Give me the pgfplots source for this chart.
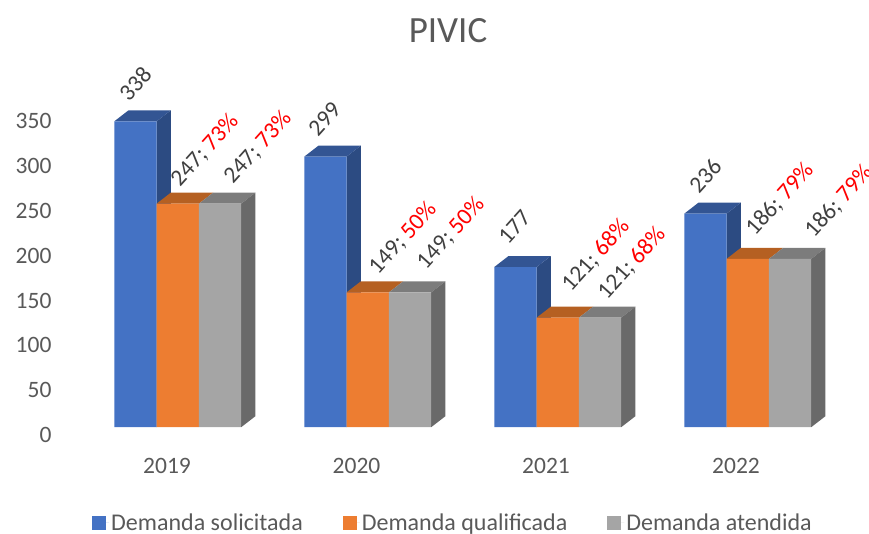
\documentclass[border=0pt]{standalone}
\usepackage{fontspec}
\setmainfont{Carlito}
\usepackage{pgfplots}
\pgfplotsset{compat=1.18}
\definecolor{bluefront}{HTML}{4472C4}
\definecolor{bluetop}{HTML}{335593}
\definecolor{blueside}{HTML}{2C4B82}
\definecolor{orangefront}{HTML}{ED7D31}
\definecolor{orangetop}{HTML}{B56022}
\definecolor{greyfront}{HTML}{A5A5A5}
\definecolor{greytop}{HTML}{7C7C7C}
\definecolor{greyside}{HTML}{696969}
\definecolor{txt}{HTML}{595959}
\definecolor{lbl}{HTML}{404040}
% top face: x of front-left, x of front-right, value, colour
\newcommand\topface[4]{%
  \pgfmathsetmacro\xc{#1+14.2}\pgfmathsetmacro\xd{#2+14.2}\pgfmathsetmacro\vt{#3+12.15}%
  \edef\tmp{\noexpand\addplot[fill=#4,draw=none,forget plot] coordinates {(#1,#3) (\xc,\vt) (\xd,\vt) (#2,#3)} -- cycle;}\tmp}
% side face: x of front-right, value, colour
\newcommand\sideface[3]{%
  \pgfmathsetmacro\xd{#1+14.2}\pgfmathsetmacro\vt{#2+12.15}%
  \edef\tmp{\noexpand\addplot[fill=#3,draw=none,forget plot] coordinates {(#1,0) (\xd,12.15) (\xd,\vt) (#1,#2)} -- cycle;}\tmp}
\newcommand\group[3]{% x of left edge, blue value, orange/grey value
  \pgfmathsetmacro\xa{#1}\pgfmathsetmacro\xb{#1+42.3}\pgfmathsetmacro\xe{#1+84.6}\pgfmathsetmacro\xf{#1+126.9}%
  \edef\ga{\xa}\edef\gb{\xb}\edef\ge{\xe}\edef\gf{\xf}%
  \sideface{\gb}{#2}{blueside}\topface{\ga}{\gb}{#2}{bluetop}%
  \topface{\gb}{\ge}{#3}{orangetop}\topface{\ge}{\gf}{#3}{greytop}\sideface{\gf}{#3}{greyside}}
\newcommand\dl[3]{\node[rotate=48,text=lbl,inner sep=0pt,font=\fontsize{23.5}{28}\selectfont] at (axis cs:#1,#2) {#3};}
\newcommand\dlp[4]{\node[rotate=48,text=lbl,inner sep=0pt,font=\fontsize{23.5}{28}\selectfont] at (axis cs:#1,#2) {#3; \textcolor{red}{#4\%}};}
\begin{document}
\begin{tikzpicture}[x=1pt,y=1pt]
\path[use as bounding box] (0,0) rectangle (869,533);
\begin{axis}[
  at={(55pt,98.3pt)},anchor=south west,
  scale only axis,width=814pt,height=434pt,
  xmin=55,xmax=869,ymin=-8.3,ymax=471.3,
  clip=false,
  axis line style={draw=none},
  tick style={draw=none},
  /pgf/number format/assume math mode=true,
  xtick={167,356.5,546,736},
  xticklabels={2019,2020,2021,2022},
  ytick={-8.3,41.4,91.2,139.8,189.5,239.2,288.9,338.6},
  yticklabels={0,50,100,150,200,250,300,350},
  tick label style={font=\fontsize{23.5}{28}\selectfont,text=txt},
  x tick label style={yshift=-20pt},
  legend columns=3,
  legend style={draw=none,fill=none,at={(rel axis cs:0.0455,-0.2028)},anchor=west,
    font=\fontsize{24}{28}\selectfont,text=txt,inner sep=0pt,
    /tikz/every even column/.append style={column sep=38pt}},
  legend image code/.code={\fill[#1] (0pt,-7pt) rectangle (14pt,7pt);\path (0pt,0pt) -- (17pt,0pt);},
]
\group{114.3}{338}{247}
\group{304.3}{299}{149}
\group{494.3}{177}{121}
\group{684.3}{236}{186}
\addplot[ybar,bar width=42.3pt,bar shift=-42.3pt,fill=bluefront,draw=none] coordinates {(177.75,338) (367.75,299) (557.75,177) (747.75,236)};
\addlegendentry{Demanda solicitada}
\addplot[ybar,bar width=42.3pt,bar shift=0pt,fill=orangefront,draw=none] coordinates {(177.75,247) (367.75,149) (557.75,121) (747.75,186)};
\addlegendentry{Demanda qualificada}
\addplot[ybar,bar width=42.3pt,bar shift=42.3pt,fill=greyfront,draw=none] coordinates {(177.75,247) (367.75,149) (557.75,121) (747.75,186)};
\addlegendentry{Demanda atendida}
% labels: axis value = (426.5 - pixel y)/0.905
\dl{136}{379.6}{338}
\dl{325}{340.3}{299}
\dl{515}{221}{177}
\dl{705.5}{277.9}{236}
\dlp{205}{306}{247}{73}
\dlp{258}{308.8}{247}{73}
\dlp{403}{208.8}{149}{50}
\dlp{451}{214.4}{149}{50}
\dlp{596}{189.5}{121}{68}
\dlp{632}{181.2}{121}{68}
\dlp{780}{251.4}{186}{79}
\dlp{839.5}{249.2}{186}{79}
\node[text=txt,font=\fontsize{37}{44}\selectfont] at (axis cs:448,438) {PIVIC};
\end{axis}
\end{tikzpicture}
\end{document}
